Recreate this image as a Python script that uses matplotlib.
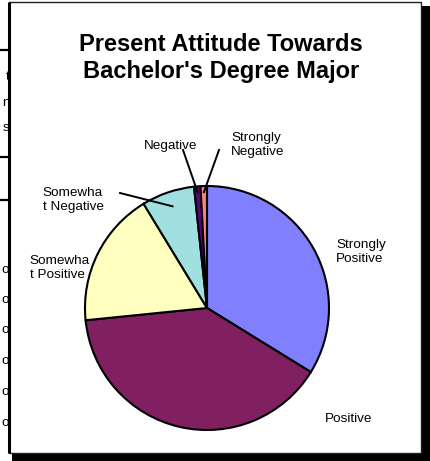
import matplotlib
matplotlib.use("Agg")
import matplotlib.pyplot as plt
from matplotlib.patches import Rectangle
import numpy as np

plt.rcParams['font.family'] = ['Liberation Sans', 'DejaVu Sans']

title = "Present Attitude Towards\nBachelor's Degree Major"
categories = ["Strongly Positive", "Positive", "Somewhat Positive",
              "Somewhat Negative", "Negative", "Strongly Negative"]
label_texts = ["Strongly\nPositive", "Positive", "Somewha\nt Positive",
               "Somewha\nt Negative", "Negative", "Strongly\nNegative"]
values = [33.8, 39.6, 17.9, 7.0, 0.85, 0.85]
colors = ["#8080FF", "#802060", "#FFFFC0", "#A0E0E0", "#600080", "#FF8080"]

W, H = 431, 461
fig = plt.figure(figsize=(W / 100, H / 100), dpi=100)
fig.patch.set_facecolor("white")

# background / frame overlay in pixel coordinates
bg = fig.add_axes([0, 0, 1, 1], zorder=0)
bg.set_xlim(0, W)
bg.set_ylim(H, 0)
bg.axis("off")

# fragments of the table behind the chart
for yy in [50, 157, 200]:
    bg.plot([0, 9], [yy, yy], color="black", lw=1.6, solid_capstyle="butt")
for ch, yy in [("t", 77), ("n", 103), ("s", 128)]:
    bg.text(9.5, yy, ch, ha="right", va="center", fontsize=9.7)
for yy in [270, 300, 330, 361, 392, 423]:
    bg.text(9.5, yy, "o", ha="right", va="center", fontsize=9.7)

# shadow and frame
bg.add_patch(Rectangle((12, 6), W - 12, H - 6, facecolor="black", edgecolor="none"))
bg.add_patch(Rectangle((9.5, 2.5), 412, 450, facecolor="white",
                       edgecolor="#202020", lw=1.0))
bg.plot([9.5, 9.5], [2, 453], color="black", lw=2.2, solid_capstyle="butt")

# pie
cx, cy, r = 207, 308, 122
ax = fig.add_axes([(cx - r) / W, 1 - (cy + r) / H, 2 * r / W, 2 * r / H], zorder=2)
wedges, _ = ax.pie(values, colors=colors, startangle=90, counterclock=False,
                   wedgeprops=dict(edgecolor="black", linewidth=1.5))
ax.set_xlim(-1, 1)
ax.set_ylim(-1, 1)
ax.set_aspect("equal")
ax.axis("off")

def P(x, y):
    return ((x - cx) / r, (cy - y) / r)

# labels (pixel positions of label centres)
label_pos = [(361, 252), (349, 419), (60, 268), (73, 200), (171, 146), (258, 145)]
for txt, (lx, ly) in zip(label_texts, label_pos):
    ax.text(*P(lx, ly), txt, ha="center", va="center", multialignment="left",
            fontsize=9.7, clip_on=False, zorder=5)

# leader lines for the small slices
leaders = {3: ((120, 193), 0.88), 4: ((183, 150), 0.95), 5: ((219, 150), 0.95)}
for i, ((sx, sy), rr) in leaders.items():
    w = wedges[i]
    mid = np.deg2rad((w.theta1 + w.theta2) / 2)
    ex, ey = rr * np.cos(mid), rr * np.sin(mid)
    x0, y0 = P(sx, sy)
    ax.plot([x0, ex], [y0, ey], color="black", lw=1.4, clip_on=False, zorder=6)

bg.text(221, 58, title, ha="center", va="center", fontsize=17,
        fontweight="bold", linespacing=1.25, zorder=5)

fig.savefig("out.png", dpi=100)
